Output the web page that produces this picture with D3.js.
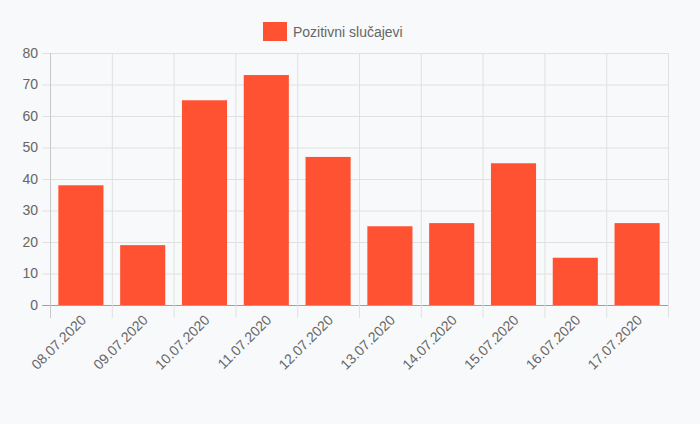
<!DOCTYPE html><html><head><meta charset="utf-8"><script src="https://cdn.jsdelivr.net/npm/d3@7"></script>
<style>body{margin:0;background:#f8f9fa}</style></head><body><svg id="c" width="700" height="424"></svg><script>
const categories=["08.07.2020","09.07.2020","10.07.2020","11.07.2020","12.07.2020","13.07.2020","14.07.2020","15.07.2020","16.07.2020","17.07.2020"];
const values=[38,19,65,73,47,25,26,45,15,26];
const yTicks=[0,10,20,30,40,50,60,70,80];
const seriesName="Pozitivni slučajevi";
const color="#ff5233";
const svg=d3.select("#c");
const L=50,R=668,T=53,B=305;
const x=d3.scaleBand().domain(categories).range([L,R]).paddingInner(0.27).paddingOuter(0.135);
const xg=d3.scaleBand().domain(categories).range([L,R]);
const y=d3.scaleLinear().domain([0,80]).range([B,T]);
const font="Helvetica, Arial, 'Liberation Sans', sans-serif";
// grid
svg.selectAll(".hg").data(yTicks).join("line").attr("x1",L-8).attr("x2",R).attr("y1",d=>y(d)+.5).attr("y2",d=>y(d)+.5).attr("stroke",d=>d===0?"#a0a0a0":"#e0e0e0");
const xs=categories.map(c=>xg(c)).concat([R]);
svg.selectAll(".vg").data(xs).join("line").attr("x1",d=>d+.5).attr("x2",d=>d+.5).attr("y1",T).attr("y2",B+13).attr("stroke",(d,i)=>i===0?"#c8c8c8":"#e0e0e0");
svg.selectAll(".yl").data(yTicks).join("text").attr("x",L-12).attr("y",d=>y(d)).attr("dy","0.35em").attr("text-anchor","end").attr("fill","#666").style("font",`14px ${font}`).text(d=>d);
svg.selectAll(".bar").data(values).join("rect").attr("x",(d,i)=>x(categories[i])).attr("width",x.bandwidth()).attr("y",d=>y(d)).attr("height",d=>B-y(d)).attr("fill",color);
svg.selectAll(".xl").data(categories).join("text").attr("transform",d=>`translate(${xg(d)+xg.bandwidth()/2+6},${B+16}) rotate(-45)`).attr("text-anchor","end").attr("fill","#666").style("font",`14px ${font}`).text(d=>d);
svg.append("rect").attr("x",263).attr("y",22).attr("width",24).attr("height",19).attr("fill",color);
svg.append("text").attr("x",293).attr("y",32).attr("dy","0.35em").attr("fill","#666").style("font",`14px ${font}`).text(seriesName);
</script></body></html>
